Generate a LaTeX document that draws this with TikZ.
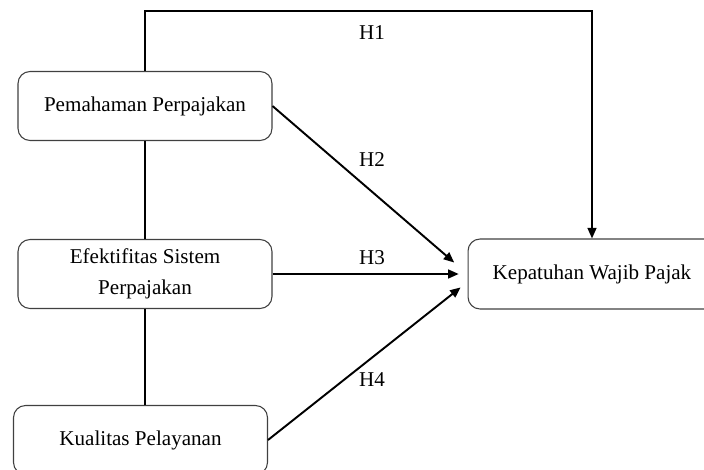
\documentclass[tikz,border=0pt]{standalone}
\usepackage{fontspec}
\setmainfont{Liberation Serif}
\usepackage{tikz}
\usetikzlibrary{arrows.meta,positioning,calc}

\begin{document}
\begin{tikzpicture}[
    x=0.02cm, y=-0.02cm,
    box/.style={draw=black!75, rounded corners=0.24cm, minimum width=5.08cm, minimum height=1.38cm,
                font=\fontsize{12}{18}\selectfont, align=center, line width=0.6pt},
    arr/.style={-{Triangle[length=6pt, width=5pt]}, line width=1.1pt},
    link/.style={line width=1.1pt},
    lbl/.style={font=\fontsize{12}{14}\selectfont, inner sep=1pt}
]
\clip (0,0) rectangle (704,470);
\node[box] (pp) at (145,106) {Pemahaman Perpajakan};
\node[box] (esp) at (145,274) {Efektifitas Sistem\\Perpajakan};
\node[box] (kp) at (140.5,440) {Kualitas Pelayanan};
\node[box, minimum width=4.96cm, minimum height=1.4cm] (kwp) at (592,274) {Kepatuhan Wajib Pajak};

\draw[link] (pp.south) -- (esp.north);
\draw[link] (esp.south) -- (esp.south |- kp.north);

\draw[arr] (pp.north) -- ++(0,-60) -| (kwp.north);
\draw[arr, shorten >=10pt] (pp.east) -- (kwp.west);
\draw[arr, shorten >=5pt] (esp.east) -- (kwp.west);
\draw[arr, shorten >=5pt] (kp.east) -- ($(kwp.west)+(0,8)$);

\node[lbl] (h1) at (372,33) {H1};
\node[lbl] (h2) at (372,160) {H2};
\node[lbl] (h3) at (372,258) {H3};
\node[lbl] (h4) at (372,380) {H4};
\end{tikzpicture}
\end{document}
